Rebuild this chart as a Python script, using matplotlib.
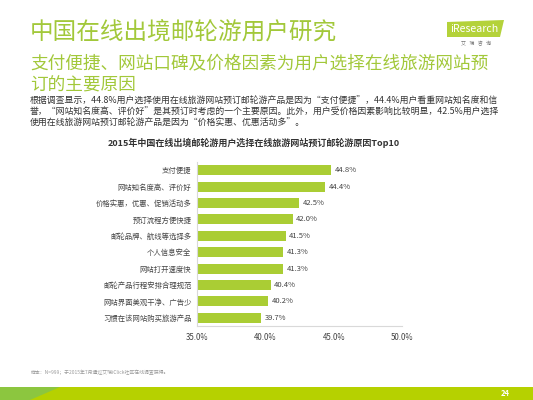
import matplotlib.pyplot as plt
from matplotlib.patches import Polygon, Rectangle

plt.rcParams['font.family'] = ['Noto Sans CJK SC', 'DejaVu Sans']

reasons = ['支付便捷', '网站知名度高、评价好', '价格实惠，优惠、促销活动多', '预订流程方便快捷',
           '邮轮品牌、航线等选择多', '个人信息安全', '网站打开速度快', '邮轮产品行程安排合理规范',
           '网站界面美观干净、广告少', '习惯在该网站购买旅游产品']
shares = [44.8, 44.4, 42.5, 42.0, 41.5, 41.3, 41.3, 40.4, 40.2, 39.7]
xticks = [35.0, 40.0, 45.0, 50.0]

GREEN = '#aacd34'
W, H = 533, 400

fig = plt.figure(figsize=(5.33, 4.0), dpi=100)

def fx(px):
    return px / W

def fy(py):
    return 1 - py / H

# header
fig.text(fx(30), fy(33), '中国在线出境邮轮游用户研究', fontsize=17, color='#a2c83a', va='center')
fig.text(fx(30), fy(63.5), '支付便捷、网站口碑及价格因素为用户选择在线旅游网站预', fontsize=12.7, color='#a2c83a', va='center')
fig.text(fx(30), fy(85), '订的主要原因', fontsize=12.7, color='#a2c83a', va='center')
body = ['根据调查显示，44.8%用户选择使用在线旅游网站预订邮轮游产品是因为“支付便捷”，44.4%用户看重网站知名度和信',
        '誉，“网站知名度高、评价好”是其预订时考虑的一个主要原因。此外，用户受价格因素影响比较明显，42.5%用户选择',
        '使用在线旅游网站预订邮轮游产品是因为“价格实惠、优惠活动多”。']
for i, line in enumerate(body):
    fig.text(fx(30), fy(101.5 + i * 11), line, fontsize=6.4, color='#333333', va='center')

# logo
fig.patches.append(Polygon([[fx(447), fy(22)], [fx(504), fy(20)], [fx(500), fy(37)], [fx(447), fy(37)]],
                           closed=True, transform=fig.transFigure, facecolor='#b4d23a', edgecolor='none'))
fig.text(fx(474), fy(29.5), 'iResearch', fontsize=7.6, color='white', ha='center', va='center')
fig.text(fx(476), fy(43.5), '艾   瑞   咨   询', fontsize=3.6, color='#777777', ha='center', va='center')

# chart
fig.text(fx(254), fy(143), '2015年中国在线出境邮轮游用户选择在线旅游网站预订邮轮游原因Top10',
         fontsize=6.5, fontweight='bold', color='#333333', ha='center', va='center')

ax = fig.add_axes([fx(197), fy(326), fx(402) - fx(197), (326 - 162) / H])
ypos = list(range(len(reasons)))
ax.barh(ypos, [s - 35 for s in shares], left=35, height=0.6, color=GREEN)
for y, s in zip(ypos, shares):
    ax.text(s + 0.25, y, f'{s:.1f}%', fontsize=5.5, color='#444444', va='center')
ax.set_xlim(35, 50)
ax.set_ylim(9.5, -0.5)
ax.set_xticks(xticks)
ax.set_xticklabels([f'{t:.1f}%' for t in xticks], fontsize=5.7, color='#444444')
ax.set_yticks(ypos)
ax.set_yticklabels(reasons, fontsize=5.3, color='#444444')
ax.tick_params(length=0, pad=4)
ax.tick_params(axis='x', pad=5)
for side in ['top', 'right']:
    ax.spines[side].set_visible(False)
for side in ['left', 'bottom']:
    ax.spines[side].set_color('#d9d9d9')
    ax.spines[side].set_linewidth(0.8)

# footnote and footer band
fig.text(fx(31), fy(372), '样本：N=999；于2015年7月通过艾瑞iClick社区在线调查获得。', fontsize=3.5, color='#999999', va='center')
fig.patches.append(Rectangle((0, 0), 1, 13 / H, transform=fig.transFigure, facecolor='#b6d100', edgecolor='none'))
fig.patches.append(Polygon([[0, 0], [0, 13 / H], [fx(60), 13 / H], [fx(30), 0]], closed=True,
                           transform=fig.transFigure, facecolor='#8cc63f', edgecolor='none'))
fig.text(fx(505), fy(393.5), '24', fontsize=5.5, color='white', fontweight='bold', ha='center', va='center')

fig.savefig('out.png', dpi=100)
